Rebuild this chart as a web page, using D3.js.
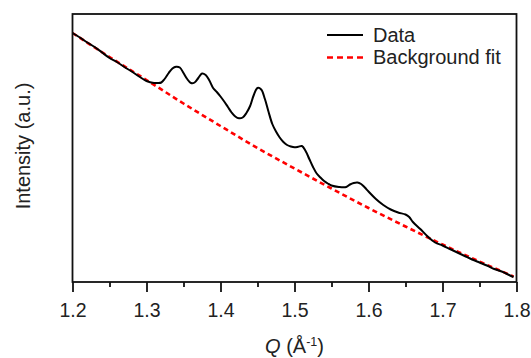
<!DOCTYPE html>
<html>
<head>
<meta charset="utf-8">
<script src="https://cdn.jsdelivr.net/npm/d3@7"></script>
<style>
  body { margin: 0; background: #fff; }
  text { font-family: Arial, 'Liberation Sans', sans-serif; fill: #222; }
</style>
</head>
<body>
<div id="chart"></div>
<script>
const qData = [
  1.2, 1.21, 1.22, 1.23, 1.24, 1.25, 1.26, 1.27, 1.28, 1.29, 1.3, 1.31, 1.315, 1.32, 1.325,
  1.33, 1.335, 1.34, 1.345, 1.35, 1.355, 1.36, 1.365, 1.37, 1.375, 1.38, 1.385, 1.39, 1.395,
  1.4, 1.405, 1.41, 1.415, 1.42, 1.425, 1.43, 1.435, 1.44, 1.445, 1.45, 1.455, 1.46, 1.465,
  1.47, 1.475, 1.48, 1.485, 1.49, 1.495, 1.5, 1.505, 1.51, 1.515, 1.52, 1.525, 1.53, 1.535,
  1.54, 1.545, 1.55, 1.56, 1.57, 1.575, 1.58, 1.585, 1.59, 1.595, 1.6, 1.61, 1.62, 1.63,
  1.64, 1.65, 1.655, 1.66, 1.67, 1.68, 1.69, 1.7, 1.71, 1.72, 1.73, 1.74, 1.75, 1.76, 1.77,
  1.78, 1.79, 1.796,
];
const iData = [
  249, 244.5, 239.5, 235, 229.5, 224, 220, 215, 210.5, 205.5, 201, 199, 199, 199.5, 203.5,
  209, 213.5, 215.3, 214.5, 209, 203, 199, 199.5, 204, 208.5, 207, 201.5, 194, 190,
  185.5, 180.5, 175, 169.5, 165.5, 163.7, 164.5, 169, 176, 187, 194, 192.5, 183, 170,
  158, 150.5, 144.5, 140, 137, 135.5, 134.7, 135.2, 136, 131, 123, 115, 108.5, 104.5,
  101, 98.5, 96.5, 95, 95, 97.5, 99, 99.5, 98, 94.5, 90.5, 83, 77, 72.5,
  69.5, 67.5, 65, 60, 53, 45.5, 39.5, 36.5, 33, 29.5, 26, 22.5, 19.5, 16.5, 13,
  10.5, 7, 5,
];

const qFit = [1.2, 1.25, 1.3, 1.35, 1.4, 1.45, 1.5, 1.55, 1.6, 1.65, 1.7, 1.75, 1.796];
const iFit = [249, 225, 202, 178.5, 156, 134, 113.5, 93.5, 74, 55.5, 37.5, 20.5, 5.5];

const majorTicks = [1.2, 1.3, 1.4, 1.5, 1.6, 1.7, 1.8];
const minorTicks = [1.25, 1.35, 1.45, 1.55, 1.65, 1.75];
const legendLabels = ['Data', 'Background fit'];

const width = 531;
const height = 358;
const margin = { top: 14, right: 14.5, bottom: 76, left: 72.5 };
const plotW = width - margin.left - margin.right;
const plotH = height - margin.top - margin.bottom;

const svg = d3
  .select('#chart')
  .append('svg')
  .attr('width', width)
  .attr('height', height);

const x = d3.scaleLinear().domain([1.2, 1.8]).range([margin.left, margin.left + plotW]);
const y = d3.scaleLinear().domain([0, 268]).range([margin.top + plotH, margin.top]);

const dataPts = qData.map((q, i) => [q, iData[i]]);
const fitPts = qFit.map((q, i) => [q, iFit[i]]);

// background fit (dashed red) first, data on top
svg
  .append('path')
  .datum(fitPts)
  .attr('fill', 'none')
  .attr('stroke', '#ff0000')
  .attr('stroke-width', 2.6)
  .attr('stroke-dasharray', '5,3.5')
  .attr('d', d3.line().x((d) => x(d[0])).y((d) => y(d[1])).curve(d3.curveMonotoneX));

svg
  .append('path')
  .datum(dataPts)
  .attr('fill', 'none')
  .attr('stroke', '#000')
  .attr('stroke-width', 2)
  .attr('stroke-linejoin', 'round')
  .attr('d', d3.line().x((d) => x(d[0])).y((d) => y(d[1])).curve(d3.curveCatmullRom));

// frame
svg
  .append('rect')
  .attr('x', margin.left)
  .attr('y', margin.top)
  .attr('width', plotW)
  .attr('height', plotH)
  .attr('fill', 'none')
  .attr('stroke', '#111')
  .attr('stroke-width', 1.8);

// bottom axis: major ticks with labels, minor ticks without
const xAxis = svg
  .append('g')
  .attr('transform', 'translate(0,' + (margin.top + plotH) + ')')
  .call(d3.axisBottom(x).tickValues(majorTicks).tickSize(10).tickFormat(d3.format('.1f')));
xAxis.select('.domain').remove();
xAxis.selectAll('line').attr('stroke', '#111').attr('stroke-width', 1.8);
xAxis
  .selectAll('text')
  .attr('y', 34.7)
  .attr('dy', 0)
  .style('font-size', '19.5px')
  .style('font-family', 'Arial, "Liberation Sans", sans-serif')
  .attr('fill', '#222');

const xMinor = svg
  .append('g')
  .attr('transform', 'translate(0,' + (margin.top + plotH) + ')')
  .call(d3.axisBottom(x).tickValues(minorTicks).tickSize(5).tickFormat(''));
xMinor.select('.domain').remove();
xMinor.selectAll('line').attr('stroke', '#111').attr('stroke-width', 1.8);

// axis titles
const xTitle = svg
  .append('text')
  .attr('x', margin.left + plotW / 2)
  .attr('y', 352.5)
  .style('text-anchor', 'middle')
  .style('font-size', '20px');
xTitle.append('tspan').style('font-style', 'italic').text('Q');
xTitle.append('tspan').text(' (Å');
xTitle.append('tspan').attr('dy', -7).style('font-size', '12.5px').text('-1');
xTitle.append('tspan').attr('dy', 7).text(')');

svg
  .append('text')
  .attr('transform', 'translate(29.5,146) rotate(-90)')
  .style('text-anchor', 'middle')
  .style('font-size', '20px')
  .text('Intensity (a.u.)');

// legend
const legend = svg
  .selectAll('.legend')
  .data(legendLabels)
  .enter()
  .append('g')
  .attr('class', 'legend')
  .attr('transform', (d, i) => 'translate(327,' + (35 + i * 22.5) + ')');

legend
  .append('line')
  .attr('x1', 0)
  .attr('x2', 36)
  .attr('stroke', (d, i) => (i === 0 ? '#000' : '#ff0000'))
  .attr('stroke-width', (d, i) => (i === 0 ? 2 : 2.6))
  .attr('stroke-dasharray', (d, i) => (i === 0 ? null : '6,4'));

legend
  .append('text')
  .attr('x', 46)
  .attr('y', 6.5)
  .style('font-size', '20px')
  .text((d) => d);
</script>
</body>
</html>
